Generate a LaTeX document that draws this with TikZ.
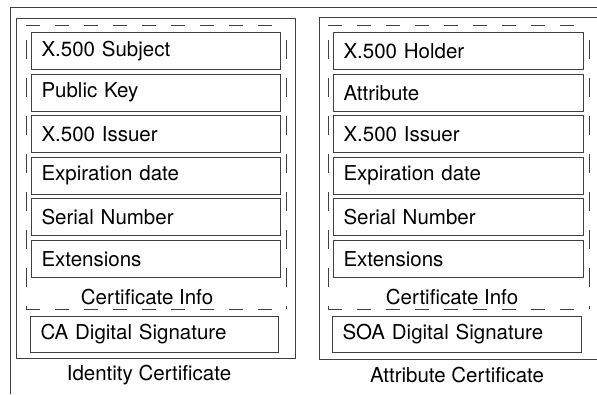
\documentclass[tikz,border=0pt]{standalone}
\usepackage{fontspec}
\setmainfont{TeX Gyre Heros}
\definecolor{linec}{HTML}{404040}
\tikzset{
  field/.style={draw=linec, line width=1pt, anchor=north west, minimum height=36.5pt,
    inner xsep=10pt, inner ysep=0pt, align=left, font=\fontsize{20.5}{24}\selectfont},
  hdash/.style={draw=linec, line width=1pt, dash pattern=on 14pt off 15pt},
  vdash/.style={draw=linec, line width=1pt, dash pattern=on 19pt off 19pt},
  frame/.style={draw=linec, line width=1pt},
  caption/.style={font=\fontsize{20.5}{24}\selectfont, inner sep=0pt}
}
\begin{document}
\begin{tikzpicture}[x=1pt,y=-1pt]
\useasboundingbox (0,0) rectangle (597,394);
% outer frame
\draw[frame] (10,394) -- (10,7) -- (597,7);
% left certificate
\draw[frame] (16,18) rectangle (295,358);
\draw[hdash] (26,25) -- (286,25);
\draw[hdash] (26,309) -- (286,309);
\draw[vdash] (26,40) -- (26,309);
\draw[vdash] (286,40) -- (286,309);
\node[field, text width=229pt] (l1) at (31,32) {X.500 Subject};
\node[field, text width=229pt] (l2) at (31,74) {Public Key};
\node[field, text width=229pt] (l3) at (31,115) {X.500 Issuer};
\node[field, text width=229pt] (l4) at (31,157) {Expiration date};
\node[field, text width=229pt] (l5) at (31,198) {Serial Number};
\node[field, text width=229pt] (l6) at (31,240) {Extensions};
\node[caption] (linfo) at (147,297) {Certificate Info};
\node[field, text width=228pt, minimum height=36pt] (lsig) at (30,316) {CA Digital Signature};
\node[caption] (lcap) at (149,375) {Identity Certificate};
% right certificate
\draw[frame] (597,17) -- (319,17) -- (319,359) -- (597,359);
\draw[hdash] (328,25) -- (589,25);
\draw[hdash] (328,309) -- (589,309);
\draw[vdash] (328,40) -- (328,309);
\draw[vdash] (589,40) -- (589,309);
\node[field, text width=230pt] (r1) at (333,32) {X.500 Holder};
\node[field, text width=230pt] (r2) at (333,74) {Attribute};
\node[field, text width=230pt] (r3) at (333,115) {X.500 Issuer};
\node[field, text width=230pt] (r4) at (333,157) {Expiration date};
\node[field, text width=230pt] (r5) at (333,198) {Serial Number};
\node[field, text width=230pt] (r6) at (333,240) {Extensions};
\node[caption] (rinfo) at (452,297) {Certificate Info};
\node[field, text width=229pt, minimum height=36pt] (rsig) at (332,316) {SOA Digital Signature};
\node[caption] (rcap) at (457,375) {Attribute Certificate};
\end{tikzpicture}
\end{document}
